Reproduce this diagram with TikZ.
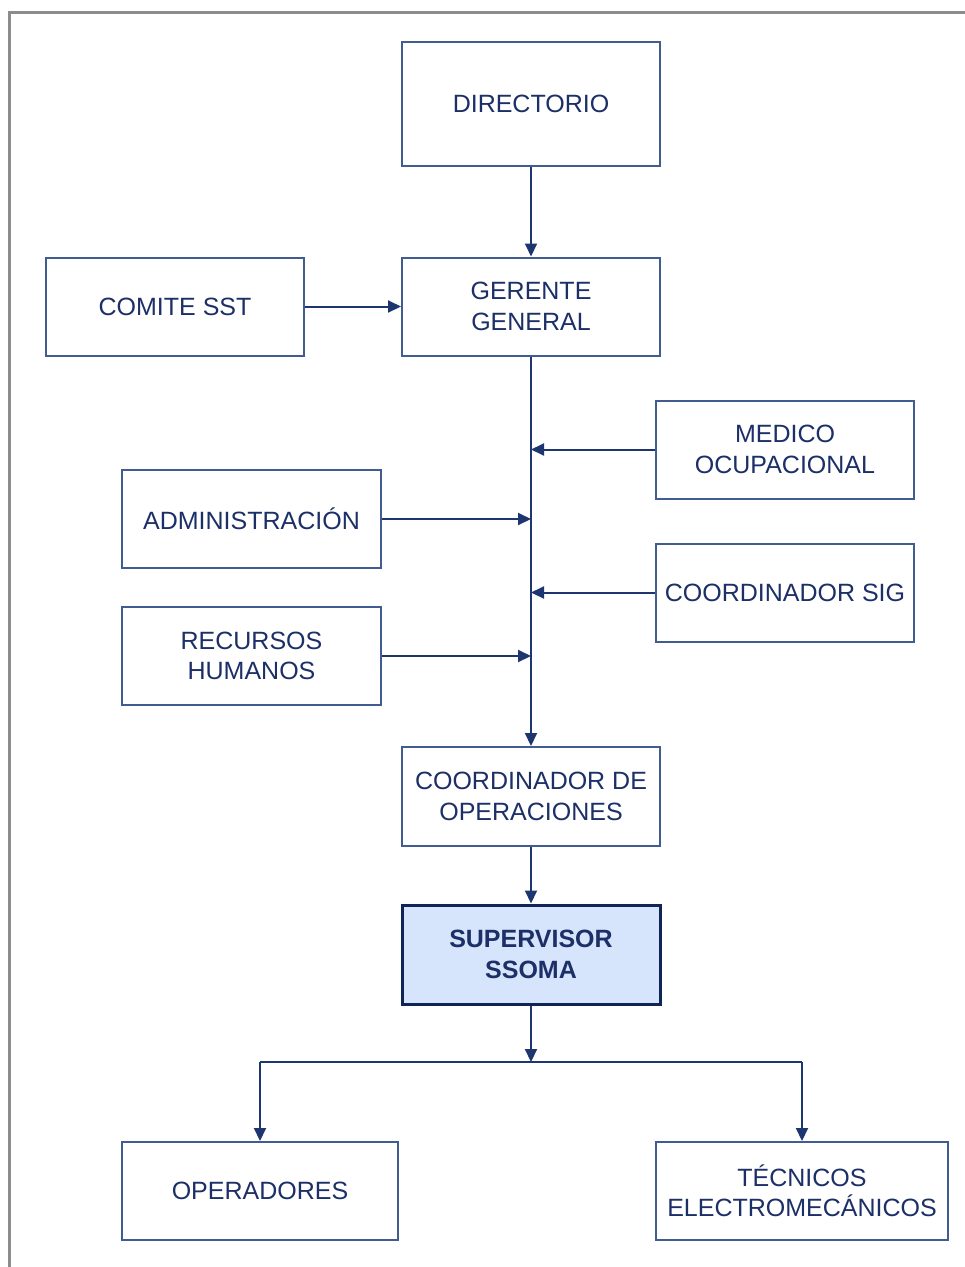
\documentclass[tikz,border=0pt]{standalone}
\usepackage{fontspec}
\setmainfont{Liberation Sans}
\usetikzlibrary{arrows.meta}
\definecolor{boxline}{HTML}{415C90}
\definecolor{conn}{HTML}{1E3670}
\definecolor{txt}{HTML}{1C2F66}
\definecolor{supfill}{HTML}{D7E5FC}
\definecolor{supline}{HTML}{0F2556}
\definecolor{framegray}{HTML}{8C8C8C}
\tikzset{
  orgbox/.style={draw=boxline, line width=2pt, fill=white, inner sep=0pt,
    text=txt, align=center, font=\fontsize{25}{30.5}\selectfont,
    minimum width=258pt, minimum height=98pt},
  supbox/.style={orgbox, draw=supline, line width=3pt, fill=supfill,
    font=\fontsize{25}{31}\selectfont\bfseries},
  conn/.style={draw=conn, line width=2pt},
  arr/.style={conn, -{Triangle[length=13pt,width=12pt]}},
}
\begin{document}
\begin{tikzpicture}[x=1pt,y=-1pt]
\useasboundingbox (0,0) rectangle (965,1267);
\draw[framegray, line width=2.5pt] (9.5,1267) -- (9.5,12.5) -- (965,12.5);

\node[orgbox, minimum height=124pt] (dir) at (531,104) {DIRECTORIO};
\node[orgbox] (ger) at (531,306.5) {GERENTE\\GENERAL};
\node[orgbox] (comite) at (175,306.5) {COMITE SST};
\node[orgbox] (med) at (785,449.5) {MEDICO\\OCUPACIONAL};
\node[orgbox, minimum width=259pt] (adm) at (251.5,519) {ADMINISTRACIÓN};
\node[orgbox] (sig) at (785,592.5) {COORDINADOR SIG};
\node[orgbox, minimum width=259pt] (rrhh) at (251.5,656) {RECURSOS\\HUMANOS};
\node[orgbox, minimum height=99pt] (cop) at (531,796.5) {COORDINADOR DE\\OPERACIONES};
\node[supbox, minimum height=99pt] (sup) at (531,954.5) {SUPERVISOR\\SSOMA};
\node[orgbox, minimum width=276pt] (oper) at (260,1191) {OPERADORES};
\node[orgbox, minimum width=292pt] (tec) at (802,1191) {TÉCNICOS\\ELECTROMECÁNICOS};

\draw[arr] (dir.south) -- (ger.north);
\draw[arr] (comite.east) -- (ger.west);
\draw[arr] (ger.south) -- (cop.north);
\draw[arr] (med.west) -- (med.west -| ger.south);
\draw[arr] (adm.east) -- (adm.east -| ger.south);
\draw[arr] (sig.west) -- (sig.west -| ger.south);
\draw[arr] (rrhh.east) -- (rrhh.east -| ger.south);
\draw[arr] (cop.south) -- (sup.north);
\coordinate (bus) at (531,1062);
\draw[arr] (sup.south) -- (bus);
\draw[conn] (bus -| oper.north) -- (bus -| tec.north);
\draw[arr] (bus -| oper.north) -- (oper.north);
\draw[arr] (bus -| tec.north) -- (tec.north);
\end{tikzpicture}
\end{document}
